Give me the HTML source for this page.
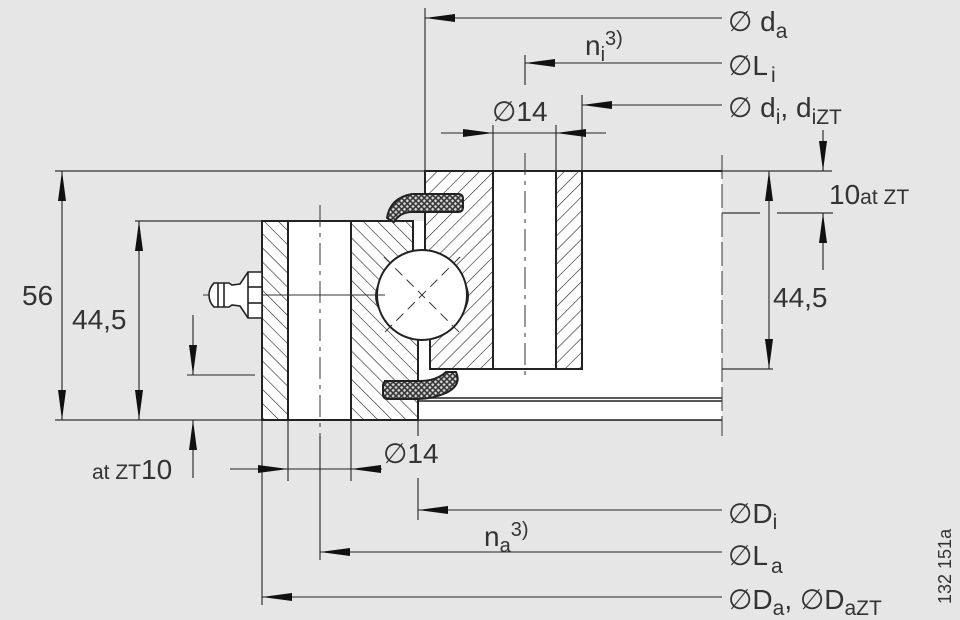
<!DOCTYPE html>
<html><head><meta charset="utf-8"><style>
html,body{margin:0;padding:0;background:#e6e6e6;}
svg{display:block;}
text{font-family:"Liberation Sans",Arial,sans-serif;fill:#333;}
</style></head><body>
<svg width="960" height="620" viewBox="0 0 960 620" xmlns="http://www.w3.org/2000/svg">
<defs>
<pattern id="hb" patternUnits="userSpaceOnUse" width="10" height="10" patternTransform="rotate(-45)">
<rect width="10" height="10" fill="#fff"/><line x1="0" y1="0" x2="0" y2="10" stroke="#222" stroke-width="1.2"/></pattern>
<pattern id="hf" patternUnits="userSpaceOnUse" width="10" height="10" patternTransform="rotate(45)">
<rect width="10" height="10" fill="#fff"/><line x1="0" y1="0" x2="0" y2="10" stroke="#222" stroke-width="1.2"/></pattern>
<pattern id="xh" patternUnits="userSpaceOnUse" width="4" height="4" patternTransform="rotate(45)">
<rect width="4" height="4" fill="#333"/><rect x="0.8" y="0.8" width="2.4" height="2.4" fill="#ddd"/></pattern>
<marker id="a" viewBox="0 0 30 8" refX="30" refY="4" markerWidth="30" markerHeight="8" markerUnits="userSpaceOnUse" orient="auto">
<path d="M0,0 L30,4 L0,8 Z" fill="#111"/></marker>
</defs>
<g stroke="#333" stroke-width="1.2" fill="none">
<line x1="55" y1="171" x2="832" y2="171"/>
<line x1="55" y1="420" x2="722" y2="420"/>
<line x1="135" y1="221" x2="262" y2="221"/>
<line x1="582" y1="213" x2="760" y2="213"/>
<line x1="777" y1="213" x2="833" y2="213"/>
<line x1="430" y1="369" x2="773" y2="369"/>
</g>
<rect x="582" y="171" width="140" height="198" fill="#fff"/>
<rect x="418" y="369" width="304" height="51" fill="#fff"/>
<rect x="288" y="221" width="63" height="199" fill="#fff"/>
<rect x="493" y="171" width="63" height="198" fill="#fff"/>
<rect x="413" y="221" width="17" height="150" fill="#fff"/>
<g stroke="#222" stroke-width="2" >
<rect x="262" y="221" width="26" height="199" fill="url(#hb)"/>
<path d="M351,221 L413,221 L413,255 L418,336 L418,420 L351,420 Z" fill="url(#hb)"/>
<path d="M425,171 L493,171 L493,369 L430,369 L430,336 L425,255 Z" fill="url(#hf)"/>
<rect x="556" y="171" width="26" height="198" fill="url(#hf)"/>
<line x1="288" y1="221" x2="351" y2="221"/>
<line x1="288" y1="420" x2="351" y2="420"/>
<line x1="493" y1="171" x2="556" y2="171"/>
<line x1="493" y1="369" x2="556" y2="369"/>
<line x1="582" y1="171" x2="722" y2="171"/>
<line x1="418" y1="398" x2="722" y2="398" stroke-width="1.5"/>
<line x1="418" y1="401" x2="722" y2="401" stroke-width="1.5"/>
<line x1="418" y1="420" x2="722" y2="420" stroke-width="1.5"/>
<line x1="413" y1="221" x2="413" y2="255"/>
<line x1="418" y1="336" x2="418" y2="380"/>
<path d="M380,282 Q372,296 380,310" fill="#fff"/>
<path d="M464,282 Q472,296 464,310" fill="#fff"/>
<circle cx="422" cy="295" r="45" fill="#fff"/>
<path d="M387,218 Q390,198 412,194 L458,194 Q463,194 463,199 L463,207 Q463,212 458,212 L412,212 Q400,212 394,222 Z" fill="url(#xh)"/>
<path d="M384,381 L420,381 Q436,381 446,372 L456,372 Q462,385 446,393 Q432,399 418,399 L388,399 Q383,399 383,394 L383,386 Q383,381 388,381 Z" fill="url(#xh)"/>
</g>
<g stroke="#333" stroke-width="1" fill="none" stroke-dasharray="10,6">
<line x1="384" y1="257" x2="460" y2="333"/>
<line x1="460" y1="257" x2="384" y2="333"/>
<line x1="203" y1="295" x2="385" y2="295" stroke-dasharray="none"/>
<line x1="320" y1="205" x2="320" y2="436" stroke-dasharray="22,6,4,6"/>
<line x1="525" y1="153" x2="525" y2="377" stroke-dasharray="22,6,4,6"/>
<line x1="722" y1="155" x2="722" y2="436" stroke-dasharray="24,5"/>
</g>
<g stroke="#222" stroke-width="1.6" fill="#fff">
<path d="M262,272 L248,272 L240,284 L232,285 L229,283 L214,283 Q209,288 209,295 Q209,302 214,307 L229,307 L232,305 L240,306 L248,318 L262,318 Z"/>
<line x1="248" y1="272" x2="248" y2="318"/>
<line x1="248" y1="287" x2="262" y2="287"/>
<line x1="248" y1="303" x2="262" y2="303"/>
<line x1="218" y1="283" x2="218" y2="307"/>
<line x1="224" y1="283" x2="224" y2="307"/>
</g>
<g stroke="#222" stroke-width="1.1" fill="none">
<line x1="425" y1="8" x2="425" y2="171"/>
<line x1="722" y1="18" x2="425" y2="18" marker-end="url(#a)"/>
<line x1="525" y1="55" x2="525" y2="85"/>
<line x1="722" y1="63" x2="525" y2="63" marker-end="url(#a)"/>
<line x1="582" y1="95" x2="582" y2="171"/>
<line x1="722" y1="105" x2="582" y2="105" marker-end="url(#a)"/>
<line x1="493" y1="125" x2="493" y2="171"/>
<line x1="556" y1="125" x2="556" y2="171"/>
<line x1="441" y1="133" x2="606" y2="133"/>
<line x1="460" y1="133" x2="493" y2="133" marker-end="url(#a)"/>
<line x1="590" y1="133" x2="556" y2="133" marker-end="url(#a)"/>
<line x1="823" y1="130" x2="823" y2="171" marker-end="url(#a)"/>
<line x1="823" y1="270" x2="823" y2="213" marker-end="url(#a)"/>
<line x1="769" y1="270" x2="769" y2="171" marker-end="url(#a)"/>
<line x1="769" y1="270" x2="769" y2="369" marker-end="url(#a)"/>
<line x1="62" y1="300" x2="62" y2="171" marker-end="url(#a)"/>
<line x1="62" y1="300" x2="62" y2="420" marker-end="url(#a)"/>
<line x1="139" y1="320" x2="139" y2="221" marker-end="url(#a)"/>
<line x1="139" y1="320" x2="139" y2="420" marker-end="url(#a)"/>
<line x1="187" y1="375" x2="255" y2="375"/>
<line x1="193" y1="315" x2="193" y2="375" marker-end="url(#a)"/>
<line x1="193" y1="478" x2="193" y2="420" marker-end="url(#a)"/>
<line x1="262" y1="420" x2="262" y2="605"/>
<line x1="288" y1="420" x2="288" y2="481"/>
<line x1="320" y1="436" x2="320" y2="560"/>
<line x1="351" y1="420" x2="351" y2="481"/>
<line x1="418" y1="420" x2="418" y2="436"/>
<line x1="418" y1="478" x2="418" y2="520"/>
<line x1="230" y1="469" x2="382" y2="469"/>
<line x1="255" y1="469" x2="288" y2="469" marker-end="url(#a)"/>
<line x1="382" y1="469" x2="351" y2="469" marker-end="url(#a)"/>
<line x1="722" y1="510" x2="418" y2="510" marker-end="url(#a)"/>
<line x1="722" y1="552" x2="320" y2="552" marker-end="url(#a)"/>
<line x1="722" y1="597" x2="262" y2="597" marker-end="url(#a)"/>
</g>
<g font-size="28">
<text x="728" y="31">∅ d<tspan font-size="21" dy="7">a</tspan></text>
<text x="585" y="55">n<tspan font-size="20" dy="6">i</tspan><tspan font-size="20" dy="-16">3)</tspan></text>
<text x="728" y="75">∅L<tspan font-size="21" dy="7" dx="3">i</tspan></text>
<text x="728" y="117">∅ d<tspan font-size="21" dy="7">i</tspan><tspan dy="-7">, d</tspan><tspan font-size="21" dy="7">iZT</tspan></text>
<text x="492" y="121">∅14</text>
<text x="829" y="204">10<tspan font-size="21">at ZT</tspan></text>
<text x="773" y="307">44,5</text>
<text x="22" y="305">56</text>
<text x="72" y="329">44,5</text>
<text x="92" y="479"><tspan font-size="21">at ZT</tspan>10</text>
<text x="383" y="463">∅14</text>
<text x="728" y="523">∅D<tspan font-size="21" dy="6">i</tspan></text>
<text x="484" y="546">n<tspan font-size="20" dy="6">a</tspan><tspan font-size="20" dy="-16">3)</tspan></text>
<text x="728" y="565">∅L<tspan font-size="21" dy="8" dx="3">a</tspan></text>
<text x="728" y="609">∅D<tspan font-size="21" dy="6">a</tspan><tspan dy="-6">, ∅D</tspan><tspan font-size="21" dy="6">aZT</tspan></text>
<text x="0" y="0" font-size="18" transform="translate(951,604) rotate(-90)">132 151a</text>
</g>
</svg>
</body></html>
